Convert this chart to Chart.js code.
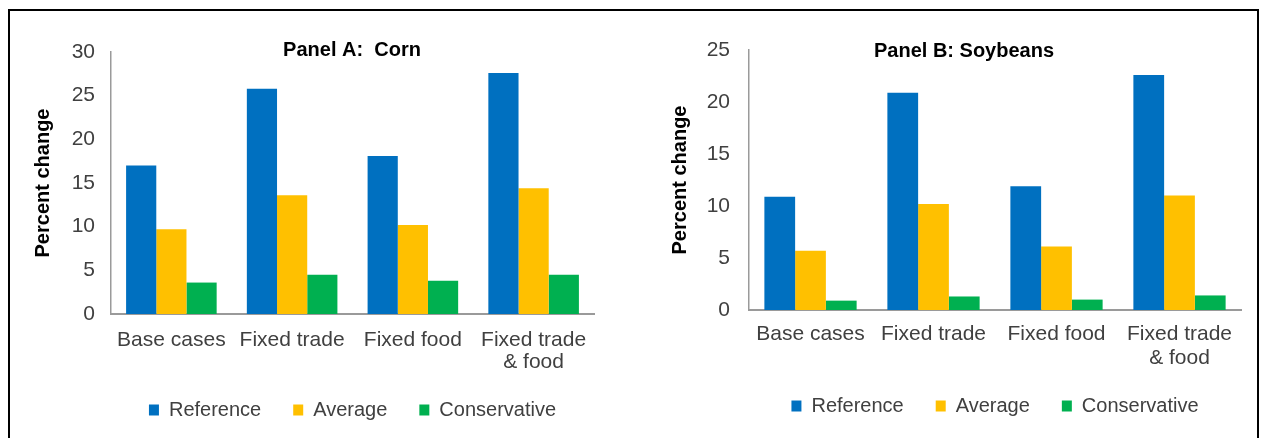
<!DOCTYPE html>
<html>
<head>
<meta charset="utf-8">
<script src="https://cdn.jsdelivr.net/npm/chart.js@4.4.0/dist/chart.umd.min.js"></script>
<style>
  html, body { margin: 0; padding: 0; background: #fff; }
  body { width: 1262px; height: 438px; position: relative; overflow: hidden; }
  #frame { position: absolute; left: 8px; top: 9px; width: 1247px; height: 460px; border: 2px solid #000; }
  .panel { position: absolute; top: 0; width: 631px; height: 438px; }
  #panelA { left: 0; }
  #panelB { left: 631px; }
</style>
</head>
<body>
<div id="frame"></div>
<div class="panel" id="panelA"><canvas id="cornChart"></canvas></div>
<div class="panel" id="panelB"><canvas id="soyChart"></canvas></div>
<script>
const categories = ['Base cases', 'Fixed trade', 'Fixed food', ['Fixed trade', '& food']];
const seriesNames = ['Reference', 'Average', 'Conservative'];
const seriesColors = ['#0070C0', '#FFC000', '#00B050'];

const cornReference = [17.0, 25.8, 18.1, 27.6];
const cornAverage = [9.7, 13.6, 10.2, 14.4];
const cornConservative = [3.6, 4.5, 3.8, 4.5];
const cornTicks = [0, 5, 10, 15, 20, 25, 30];

const soyReference = [10.9, 20.9, 11.9, 22.6];
const soyAverage = [5.7, 10.2, 6.1, 11.0];
const soyConservative = [0.9, 1.3, 1.0, 1.4];
const soyTicks = [0, 5, 10, 15, 20, 25];

const fontFamily = '"Liberation Sans", Arial, sans-serif';

// panel title sits inside the plot, so draw it by hand
const panelTitle = {
    id: 'panelTitle',
    afterDraw(chart, args, opts) {
        const ctx = chart.ctx;
        ctx.save();
        ctx.font = 'bold 20px ' + fontFamily;
        ctx.fillStyle = '#000';
        ctx.textAlign = 'center';
        ctx.textBaseline = 'middle';
        ctx.fillText(opts.text, opts.x, opts.y);
        ctx.restore();
    }
};

const makeChart = (id, values, ticks, cfg) => {
    const ctx = document.getElementById(id).getContext('2d');
    return new Chart(ctx, {
        type: 'bar',
        data: {
            labels: categories,
            datasets: seriesNames.map((name, i) => ({
                label: name,
                data: values[i],
                backgroundColor: seriesColors[i],
                borderWidth: 0,
                categoryPercentage: 0.75,
                barPercentage: 1
            }))
        },
        options: {
            responsive: true,
            maintainAspectRatio: false,
            animation: false,
            layout: { padding: cfg.padding },
            scales: {
                x: {
                    grid: { display: false, drawTicks: false },
                    border: { color: '#9a9a9a', width: 2 },
                    ticks: {
                        color: '#404040',
                        font: { family: fontFamily, size: 21, lineHeight: cfg.xLine },
                        padding: cfg.xPad,
                        maxRotation: 0,
                        autoSkip: false
                    },
                    afterFit: (s) => { s.height = cfg.xHeight; }
                },
                y: {
                    min: 0,
                    max: ticks[ticks.length - 1],
                    grid: { display: false, drawTicks: false },
                    border: { color: '#9a9a9a', width: 1.5 },
                    afterBuildTicks: (s) => { s.ticks = ticks.map(v => ({ value: v })); },
                    ticks: {
                        color: '#404040',
                        font: { family: fontFamily, size: 21 },
                        padding: cfg.yPad
                    },
                    title: {
                        display: true,
                        text: 'Percent change',
                        color: '#000',
                        font: { family: fontFamily, size: 20, weight: 'bold' },
                        padding: { top: 4, bottom: 0 }
                    },
                    afterFit: (s) => { s.width = cfg.yWidth; }
                }
            },
            plugins: {
                legend: {
                    position: 'bottom',
                    fullSize: false,
                    labels: {
                        color: '#404040',
                        font: { family: fontFamily, size: 20 },
                        boxWidth: 10,
                        boxHeight: 11,
                        padding: 32
                    }
                },
                tooltip: { enabled: false },
                panelTitle: { text: cfg.title, x: cfg.titleX, y: cfg.titleY }
            }
        },
        plugins: [panelTitle]
    });
};

makeChart('cornChart', [cornReference, cornAverage, cornConservative], cornTicks, {
    title: 'Panel A:  Corn', titleX: 352, titleY: 50,
    padding: { left: 27, right: 37, top: 52, bottom: 8 },
    yWidth: 84, yPad: 16, xPad: 15, xLine: 1.05, xHeight: 54
});

makeChart('soyChart', [soyReference, soyAverage, soyConservative], soyTicks, {
    title: 'Panel B: Soybeans', titleX: 333, titleY: 51,
    padding: { left: 33, right: 21, top: 50, bottom: 12 },
    yWidth: 85, yPad: 19, xPad: 12, xLine: 1.15, xHeight: 54
});
</script>
</body>
</html>
